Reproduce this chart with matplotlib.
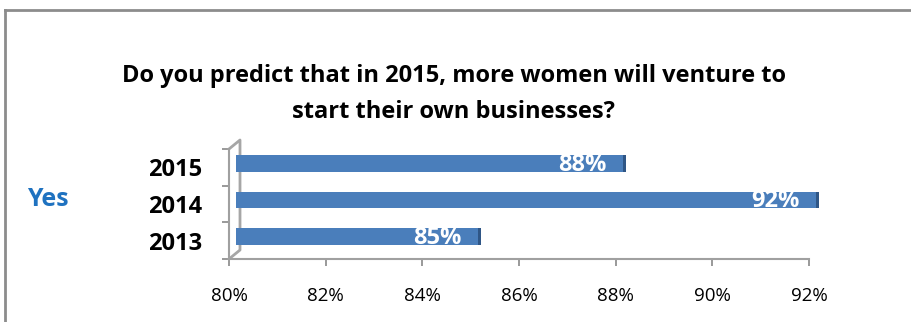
import matplotlib.pyplot as plt
import matplotlib.transforms as mtransforms
from matplotlib.lines import Line2D

# 数据
years = ['2013', '2014', '2015']
values = [85, 92, 88]
x_ticks = [80, 82, 84, 86, 88, 90, 92]
title = 'Do you predict that in 2015, more women will venture to\nstart their own businesses?'
group_label = 'Yes'

bar_color = '#4a7ebb'
side_color = '#2f5686'
wall_color = '#a6a6a6'
bar_h = 0.45

plt.rcParams['font.family'] = ['Open Sans', 'DejaVu Sans']

fig = plt.figure(figsize=(9.11, 3.22), dpi=100)
ax = fig.add_axes([229 / 911, 1 - 259 / 322, 580 / 911, 110 / 322])
ax.set_xlim(80, 92)
ax.set_ylim(-0.5, 2.5)


# 3D偏移（像素）
def px_offset(dx, dy):
    return ax.transData + mtransforms.ScaledTranslation(dx / 100, dy / 100, fig.dpi_scale_trans)


# 左侧背景墙
ax_w = 580
ax_h = 110
wall_dx = 11 * (92 - 80) / ax_w
wall_dy = 9 * 3 / ax_h
ax.plot([80, 80 + wall_dx, 80 + wall_dx, 80], [-0.5, -0.5 + wall_dy, 2.5 + wall_dy, 2.5],
        color=wall_color, lw=2, clip_on=False, zorder=2.5)

# 条形
ypos = list(range(len(years)))
ax.barh(ypos, [v - 80 for v in values], left=80, height=bar_h, color=side_color,
        transform=px_offset(10, 4), clip_on=False, zorder=3)
ax.barh(ypos, [v - 80 for v in values], left=80, height=bar_h, color=bar_color,
        transform=px_offset(7, 4), clip_on=False, zorder=4)
for y, v in zip(ypos, values):
    ax.text(v, y - bar_h / 2, f'{v}%', color='white', fontsize=17, fontweight='bold',
            ha='right', va='baseline', transform=px_offset(-9, 5), zorder=5)

ax.set_xticks(x_ticks)
ax.set_xticklabels([f'{t}%' for t in x_ticks], fontsize=13.5)
ax.set_yticks([-0.5, 0.5, 1.5, 2.5])
ax.set_yticklabels([])
ax.set_yticks(ypos, minor=True)
ax.set_yticklabels(years, minor=True, fontsize=17, fontweight='bold')
ax.tick_params(axis='y', which='minor', length=0, pad=19)
ax.tick_params(axis='y', which='major', length=5, color='#888888', width=1.2)
ax.tick_params(axis='x', length=5, color='#888888', width=1.2, pad=15)

for s in ['top', 'right']:
    ax.spines[s].set_visible(False)
for s in ['left', 'bottom']:
    ax.spines[s].set_color('#a0a0a0')
    ax.spines[s].set_linewidth(1.5)

fig.text(454 / 911, 1 - 94 / 322, title, ha='center', va='center', fontsize=17,
         fontweight='bold', linespacing=1.7)
fig.text(48 / 911, 1 - 200 / 322, group_label, ha='center', va='center', fontsize=18,
         fontweight='bold', color='#1f72c0')

# 外框
fig.add_artist(Line2D([5 / 911, 5 / 911], [0, 1 - 10 / 322], color='#8c8c8c', lw=2,
                      transform=fig.transFigure))
fig.add_artist(Line2D([5 / 911, 1], [1 - 10 / 322, 1 - 10 / 322], color='#8c8c8c', lw=2,
                      transform=fig.transFigure))

fig.savefig('out.png', dpi=100)
